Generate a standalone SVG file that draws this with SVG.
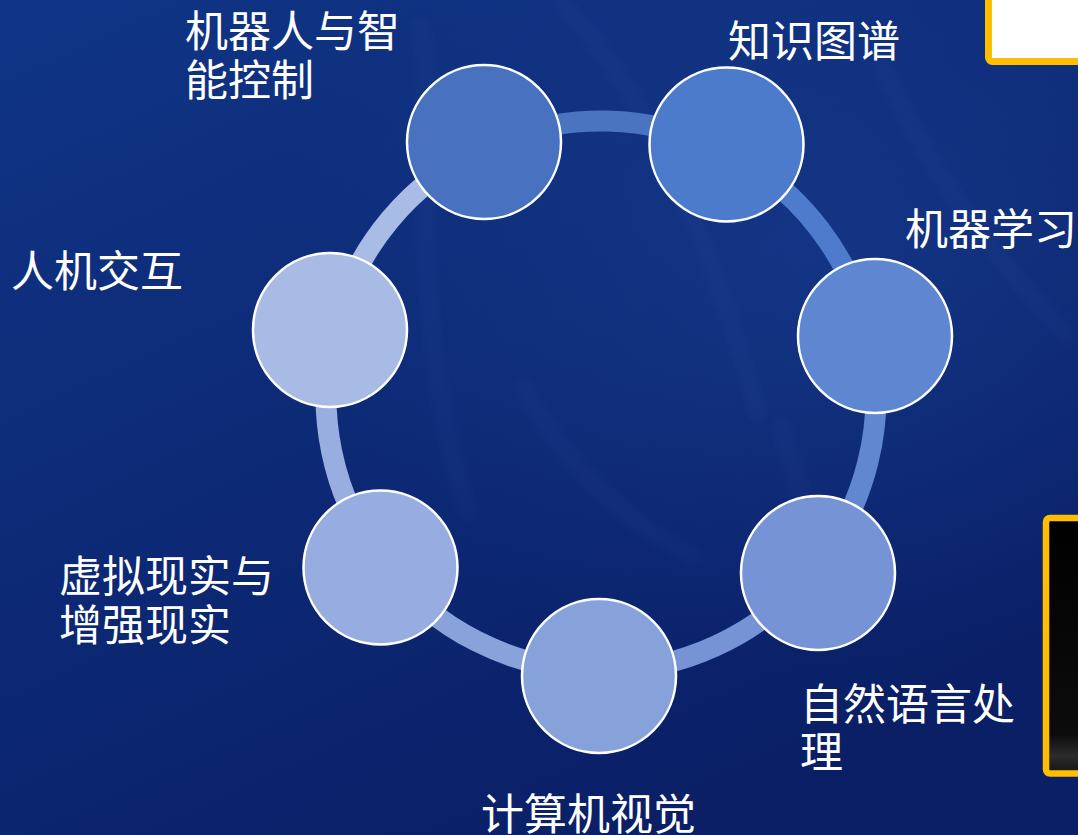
<svg xmlns="http://www.w3.org/2000/svg" width="1078" height="835" viewBox="0 0 1078 835">
  <defs>
    <linearGradient id="bg" x1="0" y1="0" x2="0.6" y2="1">
      <stop offset="0" stop-color="#103586"/>
      <stop offset="0.45" stop-color="#0d2b78"/>
      <stop offset="1" stop-color="#0a1f66"/>
    </linearGradient>
    <radialGradient id="glow" cx="0.75" cy="0.3" r="0.5">
      <stop offset="0" stop-color="#1a3f92" stop-opacity="0.55"/>
      <stop offset="1" stop-color="#1a3f92" stop-opacity="0"/>
    </radialGradient>
    <linearGradient id="screen" x1="0" y1="0" x2="0" y2="1">
      <stop offset="0" stop-color="#000000"/>
      <stop offset="0.85" stop-color="#0c0c0c"/>
      <stop offset="0.93" stop-color="#2c2c2c"/>
      <stop offset="1" stop-color="#151515"/>
    </linearGradient>
    <filter id="soft" x="-20%" y="-20%" width="140%" height="140%">
      <feGaussianBlur stdDeviation="7"/>
    </filter>
    <style>
      .ring { fill: none; stroke-width: 21; }
      .node { stroke: #ffffff; stroke-width: 2.5; }
      .lbl { fill: #ffffff; font-family: "Noto Sans CJK SC", "Microsoft YaHei", sans-serif; font-size: 43px; }
      .streak { fill: none; stroke: #4a6fc0; stroke-opacity: 0.1; stroke-width: 10; filter: url(#soft); }
    </style>
  </defs>

  <!-- background -->
  <rect x="0" y="0" width="1078" height="835" fill="url(#bg)"/>
  <rect x="0" y="0" width="1078" height="835" fill="url(#glow)"/>
  <g id="texture">
    <path class="streak" d="M420 20 C 440 120, 400 300, 470 520"/>
    <path class="streak" d="M560 0 C 640 90, 700 200, 760 420"/>
    <path class="streak" d="M880 60 C 930 180, 1000 260, 1070 340"/>
    <path class="streak" d="M520 380 C 560 460, 620 520, 700 560"/>
    <path class="streak" d="M780 420 C 800 500, 820 540, 830 620"/>
  </g>

  <!-- side panels -->
  <g id="panel-top-right">
    <rect x="988.5" y="-10" width="100" height="71.5" rx="4" fill="#ffffff" stroke="#ffbf00" stroke-width="7"/>
  </g>
  <g id="panel-right">
    <rect x="1046" y="518" width="50" height="255.5" rx="4" fill="url(#screen)" stroke="#ffbf00" stroke-width="6.5"/>
  </g>

  <!-- connectors (ring arcs) -->
  <g id="connectors">
    <path class="ring" stroke="#4a74c0" d="M487 145.7 A275 275 0 0 1 725.5 150.8"/>
    <path class="ring" stroke="#4e7bcb" d="M725.5 150.8 A275 275 0 0 1 870.3 340.5"/>
    <path class="ring" stroke="#6087d0" d="M870.3 340.5 A275 275 0 0 1 812.3 572"/>
    <path class="ring" stroke="#7693d5" d="M812.3 572 A275 275 0 0 1 595.2 670.9"/>
    <path class="ring" stroke="#88a2da" d="M595.2 670.9 A275 275 0 0 1 382.5 563"/>
    <path class="ring" stroke="#98ade0" d="M382.5 563 A275 275 0 0 1 334.3 329.1"/>
    <path class="ring" stroke="#a9bce6" d="M334.3 329.1 A275 275 0 0 1 487 145.7"/>
  </g>

  <!-- nodes -->
  <g id="node-robot">
    <circle class="node" cx="484" cy="142" r="77" fill="#4872bf"/>
    <text class="lbl" x="185" y="47">机器人与智</text>
    <text class="lbl" x="185" y="96">能控制</text>
  </g>
  <g id="node-kg">
    <circle class="node" cx="726.5" cy="144.5" r="77" fill="#4d7bcb"/>
    <text class="lbl" x="728" y="57">知识图谱</text>
  </g>
  <g id="node-ml">
    <circle class="node" cx="875" cy="336" r="77" fill="#5f86d0"/>
    <text class="lbl" x="905" y="245">机器学习</text>
  </g>
  <g id="node-nlp">
    <circle class="node" cx="818" cy="573" r="77" fill="#7593d5"/>
    <text class="lbl" x="800" y="720">自然语言处</text>
    <text class="lbl" x="800" y="768">理</text>
  </g>
  <g id="node-cv">
    <circle class="node" cx="599" cy="676" r="77" fill="#87a1da"/>
    <text class="lbl" x="481" y="830">计算机视觉</text>
  </g>
  <g id="node-vr">
    <circle class="node" cx="380.5" cy="567.5" r="77" fill="#97ace0"/>
    <text class="lbl" x="59" y="592">虚拟现实与</text>
    <text class="lbl" x="59" y="641">增强现实</text>
  </g>
  <g id="node-hci">
    <circle class="node" cx="330" cy="330" r="77" fill="#a8bbe5"/>
    <text class="lbl" x="11" y="287">人机交互</text>
  </g>
</svg>
